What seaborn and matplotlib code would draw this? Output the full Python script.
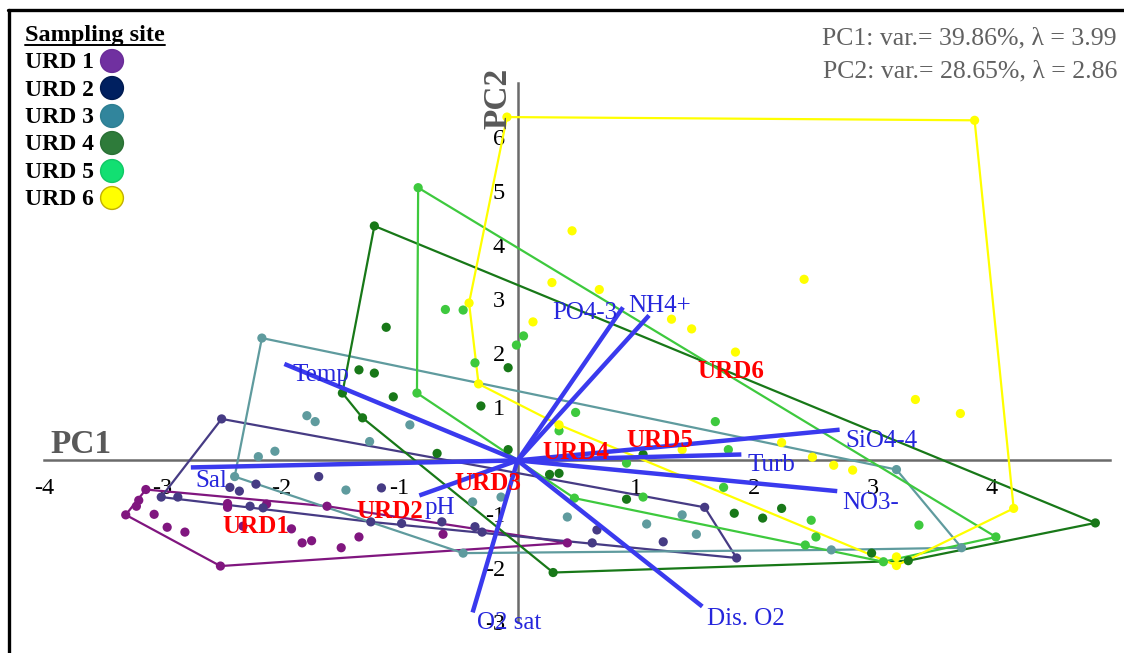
import numpy as np
import pandas as pd
import matplotlib
matplotlib.use("Agg")
import matplotlib.pyplot as plt
from matplotlib.lines import Line2D
import seaborn as sns

# ---------------------------------------------------------------------------
# Sample scores on the first two principal components, one pair of lists per site
# ---------------------------------------------------------------------------
sites = ["URD 1", "URD 2", "URD 3", "URD 4", "URD 5", "URD 6"]

urd1_pc1 = [-3.31, -3.14, 0.42, -2.51, -1.61, -3.20, -3.22, -3.07, -2.96, -2.81,
            -2.45, -2.45, -2.32, -2.12, -1.91, -1.82, -1.74, -1.49, -1.34, -0.63]
urd1_pc2 = [-1.01, -0.54, -1.53, -1.96, -0.85, -0.74, -0.85, -1.00, -1.24, -1.33,
            -0.87, -0.80, -1.22, -0.81, -1.27, -1.53, -1.49, -1.62, -1.42, -1.37]

urd2_pc1 = [-2.50, 1.58, 1.85, -3.01, -1.24, -2.87, -2.43, -2.35, -2.21, -1.68,
            -2.15, -2.26, -1.15, -0.98, -0.64, -0.36, -0.30, 0.63, 0.67, 1.23]
urd2_pc2 = [0.77, -0.87, -1.81, -0.68, -1.14, -0.68, -0.50, -0.57, -0.44, -0.30,
            -0.88, -0.85, -0.51, -1.17, -1.14, -1.23, -1.33, -1.53, -1.29, -1.51]

urd3_pc1 = [-2.16, 3.20, 3.75, -0.46, -2.39, -1.78, -1.71, -0.91, -1.25, -2.19,
            -2.05, -1.45, -0.38, -0.14, 0.42, 1.09, 1.39, 1.51, 2.65]
urd3_pc2 = [2.27, -0.17, -1.62, -1.72, -0.30, 0.83, 0.72, 0.66, 0.35, 0.07,
            0.17, -0.55, -0.77, -0.68, -1.05, -1.18, -1.01, -1.37, -1.66]

urd4_pc1 = [-1.21, 4.88, 3.30, 0.30, -1.48, -1.31, -1.11, -1.34, -1.21, -1.05, -0.31,
            -0.08, -0.08, -0.68, 1.06, 0.27, 0.35, 0.92, 1.83, 2.07, 2.23, 2.99]
urd4_pc2 = [4.35, -1.16, -1.86, -2.08, 1.25, 0.79, 2.47, 1.68, 1.62, 1.18, 1.01,
            1.72, 0.20, 0.13, 0.11, -0.26, -0.24, -0.72, -0.98, -1.07, -0.89, -1.72]

urd5_pc1 = [-0.84, 4.04, 3.09, 0.48, -0.85, -0.61, -0.46, 0.05, -0.01, -0.36, 0.49,
            0.35, 1.67, 1.78, 0.92, 1.74, 1.06, 2.48, 2.52, 2.43, 3.39]
urd5_pc2 = [5.06, -1.42, -1.88, -0.70, 1.25, 2.80, 2.79, 2.31, 2.14, 1.81, 0.89,
            0.55, 0.72, 0.20, -0.05, -0.50, -0.68, -1.11, -1.42, -1.57, -1.20]

urd6_pc1 = [-0.09, 3.86, 4.19, 3.20, 0.35, -0.33, -0.41, 0.46, 0.29, 0.69, 0.13, 1.30,
            1.47, 1.84, 2.42, 3.36, 3.74, 2.23, 2.49, 2.67, 2.83, 1.39, 3.20]
urd6_pc2 = [6.37, 6.31, -0.89, -1.95, 0.66, 1.42, 2.92, 4.26, 3.30, 3.17, 2.57, 2.62,
            2.44, 2.01, 3.36, 1.13, 0.87, 0.33, 0.06, -0.09, -0.18, 0.20, -1.79]

# Variable loadings (arrow tips) and site centroids
loading_names = ["Temp", "Sal", "pH", "O2 sat", "Dis. O2", "NO3-", "Turb", "SiO4-4", "PO4-3", "NH4+"]
loading_pc1 = [-1.97, -2.76, -0.83, -0.38, 1.56, 2.70, 1.89, 2.72, 0.89, 1.11]
loading_pc2 = [1.79, -0.13, -0.65, -2.82, -2.71, -0.57, 0.11, 0.57, 2.84, 2.69]

centroid_names = ["URD1", "URD2", "URD3", "URD4", "URD5", "URD6"]
centroid_pc1 = [-2.21, -1.08, -0.25, 0.49, 1.20, 1.80]
centroid_pc2 = [-1.18, -0.90, -0.39, 0.20, 0.42, 1.70]

pc_variance = [39.86, 28.65]
pc_eigenvalue = [3.99, 2.86]

x_ticks = [-4, -3, -2, -1, 1, 2, 3, 4]
y_ticks = [-3, -2, -1, 1, 2, 3, 4, 5, 6]

# ---------------------------------------------------------------------------
# Styling
# ---------------------------------------------------------------------------
point_colors = ["#80167f", "#463b84", "#5f9b9e", "#187818", "#3ec93e", "#ffff00"]
key_colors = ["#7030a0", "#002060", "#31859c", "#2e7b3a", "#12df72", "#ffff00"]
key_edges = ["#6a2c98", "#001a50", "#2d7f92", "#2a7035", "#10c865", "#c2b000"]
vector_color = "#3a3aee"
vector_text = "#2626dc"
axis_gray = "#6b6b6b"

# label offsets from the arrow tips, in pixels (dx, dy, horizontal alignment)
label_offsets = {
    "Temp": (8, -9, "left"), "Sal": (5, -11, "left"), "pH": (5, -10, "left"),
    "O2 sat": (4, -8, "left"), "Dis. O2": (5, -10, "left"), "NO3-": (5, -9, "left"),
    "Turb": (6, -8, "left"), "SiO4-4": (6, -9, "left"), "PO4-3": (-6, -3, "right"),
    "NH4+": (-21, 12, "left"),
}

sns.set_theme(style="white")
plt.rcParams["font.family"] = ["Liberation Serif", "DejaVu Serif"]

W, H = 1124, 653
fig = plt.figure(figsize=(W / 100, H / 100), dpi=100)
ax = fig.add_axes([0, 0, 1, 1])
ax.set_xlim(-4.372, 5.122)
ax.set_ylim(-3.573, 8.542)


def fx(px):
    return px / W


def fy(py):
    return 1 - py / H


def convex_hull(points):
    pts = sorted(set(points))
    if len(pts) < 3:
        return pts

    def cross(o, a, b):
        return (a[0] - o[0]) * (b[1] - o[1]) - (a[1] - o[1]) * (b[0] - o[0])

    lower, upper = [], []
    for p in pts:
        while len(lower) >= 2 and cross(lower[-2], lower[-1], p) <= 0:
            lower.pop()
        lower.append(p)
    for p in reversed(pts):
        while len(upper) >= 2 and cross(upper[-2], upper[-1], p) <= 0:
            upper.pop()
        upper.append(p)
    return lower[:-1] + upper[:-1]


scores = {
    "URD 1": (urd1_pc1, urd1_pc2), "URD 2": (urd2_pc1, urd2_pc2),
    "URD 3": (urd3_pc1, urd3_pc2), "URD 4": (urd4_pc1, urd4_pc2),
    "URD 5": (urd5_pc1, urd5_pc2), "URD 6": (urd6_pc1, urd6_pc2),
}
df = pd.concat(
    [pd.DataFrame({"PC1": s[0], "PC2": s[1], "site": name}) for name, s in scores.items()],
    ignore_index=True,
)

# hull outlines around each site
for name, color in zip(sites, point_colors):
    pc1, pc2 = scores[name]
    hull = convex_hull(list(zip(pc1, pc2)))
    hull.append(hull[0])
    hx, hy = zip(*hull)
    ax.plot(hx, hy, color=color, lw=1.6, zorder=2, solid_joinstyle="round")

sns.scatterplot(data=df, x="PC1", y="PC2", hue="site", hue_order=sites,
                palette=dict(zip(sites, point_colors)), s=44, linewidth=0,
                legend=False, ax=ax, zorder=3)
ax.set_xlabel("")
ax.set_ylabel("")

# loading vectors
for name, lx, ly in zip(loading_names, loading_pc1, loading_pc2):
    ax.plot([0, lx], [0, ly], color=vector_color, lw=3.2, solid_capstyle="butt", zorder=4)
    dx, dy, ha = label_offsets[name]
    ax.annotate(name, xy=(lx, ly), xytext=(dx, dy), textcoords="offset pixels",
                ha=ha, va="center_baseline", fontsize=18, color=vector_text, zorder=7)

# site centroid labels
for name, cx, cy in zip(centroid_names, centroid_pc1, centroid_pc2):
    ax.text(cx, cy, name, ha="center", va="center_baseline", fontsize=18,
            fontweight="bold", color="#ff0000", zorder=6)

# axes crossing at the origin
for side in ["top", "right"]:
    ax.spines[side].set_visible(False)
ax.spines["left"].set_position(("data", 0))
ax.spines["bottom"].set_position(("data", 0))
ax.spines["left"].set_bounds(-3, 7)
ax.spines["bottom"].set_bounds(-4, 5)
for side in ["left", "bottom"]:
    ax.spines[side].set_color(axis_gray)
    ax.spines[side].set_linewidth(1.8)
    ax.spines[side].set_zorder(1)

ax.set_xticks(x_ticks)
ax.set_xticklabels([str(t) for t in x_ticks])
ax.set_yticks(y_ticks)
ax.set_yticklabels([str(t) for t in y_ticks])
ax.tick_params(axis="x", direction="out", length=6, width=1.4, color=axis_gray,
               labelcolor="black", labelsize=17.5, pad=7)
ax.tick_params(axis="y", direction="out", length=7, width=1.4, color=axis_gray,
               labelcolor="black", labelsize=17.5, pad=2)
ax.grid(False)

ax.text(-3.69, 0.36, "PC1", ha="center", va="center_baseline", fontsize=24,
        fontweight="bold", color="#595959")
ax.text(-0.17, 6.72, "PC2", ha="center", va="center", rotation=90, fontsize=24,
        fontweight="bold", color="#595959")

# variance summary, top right
for i, base in enumerate([44, 77]):
    fig.text(fx(1117), fy(base),
             f"PC{i + 1}: var.= {pc_variance[i]:.2f}%, \u03bb = {pc_eigenvalue[i]:.2f}",
             ha="right", va="baseline", fontsize=18.5, color="#616161")

# site key, top left
title = fig.text(fx(25), fy(41), "Sampling site", ha="left", va="baseline",
                 fontsize=17.5, fontweight="bold", color="black")
key_baselines = [68, 96, 123, 150, 178, 205]
key_centers = [61, 88, 116, 143, 171, 198]
for name, base in zip(sites, key_baselines):
    fig.text(fx(25), fy(base), name, ha="left", va="baseline", fontsize=17,
             fontweight="bold", color="black")
ax.scatter([fx(112)] * len(sites), [fy(c) for c in key_centers], s=270,
           c=key_colors, edgecolors=key_edges, linewidths=1.0,
           transform=fig.transFigure, clip_on=False, zorder=8)

fig.canvas.draw()
bb = title.get_window_extent()
fig.add_artist(Line2D([bb.x0 / W, bb.x1 / W], [fy(45), fy(45)], color="black", lw=1.4))

# frame along the top and left edges
fig.add_artist(Line2D([fx(9), fx(9)], [fy(10), 0], color="black", lw=2.4))
fig.add_artist(Line2D([fx(8), 1], [fy(10), fy(10)], color="black", lw=2.4))

fig.savefig("out.png", dpi=100)
